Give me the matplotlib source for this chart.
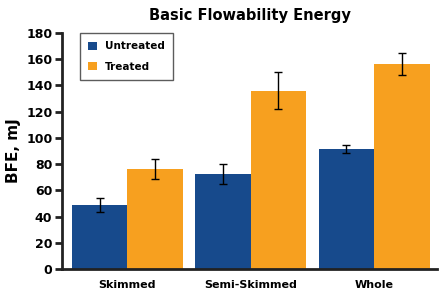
import matplotlib.pyplot as plt
import numpy as np

categories = ["Skimmed", "Semi-Skimmed", "Whole"]
untreated = [49, 72.5, 91.5]
untreated_err = [5.5, 7.5, 3]
treated = [76.5, 136, 156.5]
treated_err = [7.5, 14, 8.5]

blue = "#174a8c"
orange = "#f7a01f"

fig = plt.figure(figsize=(4.4, 2.96), dpi=100)
ax = fig.add_axes([0.141, 0.091, 0.852, 0.798])

x = np.arange(len(categories))
w = 0.45
ax.bar(x - w / 2, untreated, w, color=blue, label="Untreated",
       yerr=untreated_err, capsize=3, error_kw=dict(elinewidth=1, capthick=1, ecolor="black"))
ax.bar(x + w / 2, treated, w, color=orange, label="Treated",
       yerr=treated_err, capsize=3, error_kw=dict(elinewidth=1, capthick=1, ecolor="black"))

ax.set_xlim(-0.53, 2.51)
ax.set_ylim(0, 180)
ax.set_yticks(np.arange(0, 181, 20))
ax.set_xticks(x)
ax.set_xticklabels(categories, fontsize=8, fontweight="bold")
for t in ax.get_yticklabels():
    t.set_fontsize(9)
    t.set_fontweight("bold")

for s in ["top", "right"]:
    ax.spines[s].set_visible(False)
for s in ["left", "bottom"]:
    ax.spines[s].set_linewidth(2)
    ax.spines[s].set_color("#222222")
ax.tick_params(axis="y", length=5, width=2, color="#222222", pad=2)
ax.tick_params(axis="x", length=0, pad=8)

ax.set_ylabel("BFE, mJ", fontsize=11, fontweight="bold", labelpad=4)
ax.set_title("Basic Flowability Energy", fontsize=10.5, fontweight="bold", pad=9)

leg = ax.legend(loc="upper left", bbox_to_anchor=(0.048, 1.0), borderaxespad=0,
                prop={"weight": "bold", "size": 7.5},
                handlelength=0.8, handleheight=0.8, labelspacing=1.0,
                fancybox=False, edgecolor="#333333", borderpad=0.8)
leg.get_frame().set_linewidth(1)

fig.savefig("out.png", dpi=100)
